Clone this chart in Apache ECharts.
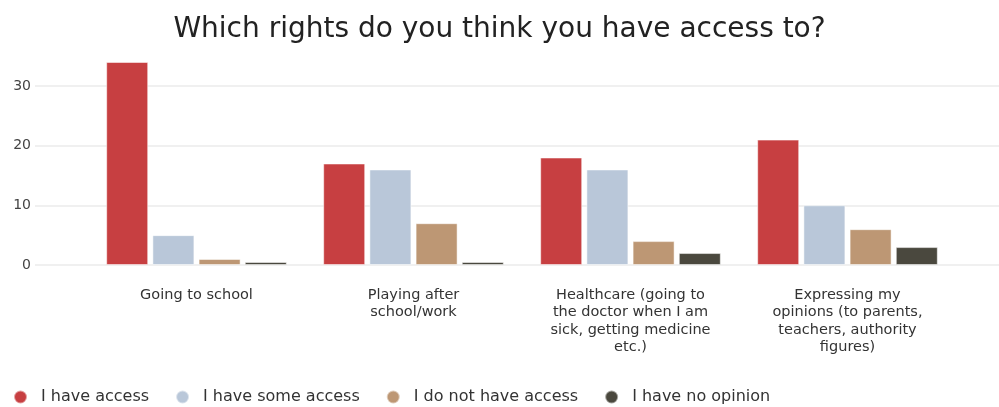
<!DOCTYPE html>
<html>
<head>
<meta charset="utf-8">
<script src="https://cdn.jsdelivr.net/npm/echarts@6/dist/echarts.min.js"></script>
<style>
  html, body { margin: 0; padding: 0; background: #fff; }
  #chart { width: 999px; height: 407px; }
</style>
</head>
<body>
<div id="chart"></div>
<script>
// chart data
const categories = [
    'Going to school',
    'Playing after\nschool/work',
    'Healthcare (going to\nthe doctor when I am\nsick, getting medicine\netc.)',
    'Expressing my\nopinions (to parents,\nteachers, authority\nfigures)'
];
const seriesNames = ['I have access', 'I have some access', 'I do not have access', 'I have no opinion'];
const haveAccess = [34, 17, 18, 21];
const someAccess = [5, 16, 16, 10];
const noAccess = [1, 7, 4, 6];
const noOpinion = [0.5, 0.5, 2, 3];
const yTicks = [0, 10, 20, 30];

const colors = ['#c73f41', '#b9c7d9', '#bd9774', '#4a483e'];
const font = 'DejaVu Sans';

const chart = echarts.init(document.getElementById('chart'));

const values = [haveAccess, someAccess, noAccess, noOpinion];

chart.setOption({
    backgroundColor: '#fff',
    animation: false,
    title: {
        text: 'Which rights do you think you have access to?',
        left: 'center',
        top: 11,
        padding: [5, 0, 5, 12],
        textStyle: { fontFamily: font, fontSize: 28, fontWeight: 'normal', color: '#222' }
    },
    legend: {
        data: seriesNames,
        left: 13,
        bottom: 2,
        padding: 0,
        icon: 'circle',
        itemWidth: 13,
        itemHeight: 13,
        itemGap: 26,
        textStyle: { fontFamily: font, fontSize: 16, color: '#333', padding: [0, 0, 0, 9] }
    },
    grid: [
        // background grid for the horizontal lines and y labels
        { left: 35, right: 0, top: 86, bottom: 142 },
        // grid holding the bars
        { left: 88, right: 43, top: 62, bottom: 142 }
    ],
    xAxis: [
        { gridIndex: 0, type: 'category', data: categories, show: false },
        {
            gridIndex: 1,
            type: 'category',
            data: categories,
            axisLine: { show: false },
            axisTick: { show: false },
            axisLabel: {
                interval: 0,
                margin: 21,
                fontFamily: font,
                fontSize: 14.5,
                lineHeight: 17.6,
                color: '#333'
            }
        }
    ],
    yAxis: [
        {
            gridIndex: 0,
            type: 'value',
            min: yTicks[0],
            max: yTicks[yTicks.length - 1],
            interval: 10,
            axisLine: { show: false },
            axisTick: { show: false },
            axisLabel: { margin: 4, fontFamily: font, fontSize: 14, color: '#444' },
            splitLine: { lineStyle: { color: '#ebebeb', width: 1.5 } }
        },
        {
            gridIndex: 1,
            type: 'value',
            min: 0,
            max: 34,
            show: false,
            splitLine: { show: false }
        }
    ],
    series: seriesNames.map((name, i) => ({
        name,
        type: 'bar',
        xAxisIndex: 1,
        yAxisIndex: 1,
        data: values[i],
        barWidth: 42,
        barGap: '10%',
        itemStyle: { color: colors[i], borderColor: 'rgba(255,255,255,0.5)', borderWidth: 1 }
    }))
});
</script>
</body>
</html>
